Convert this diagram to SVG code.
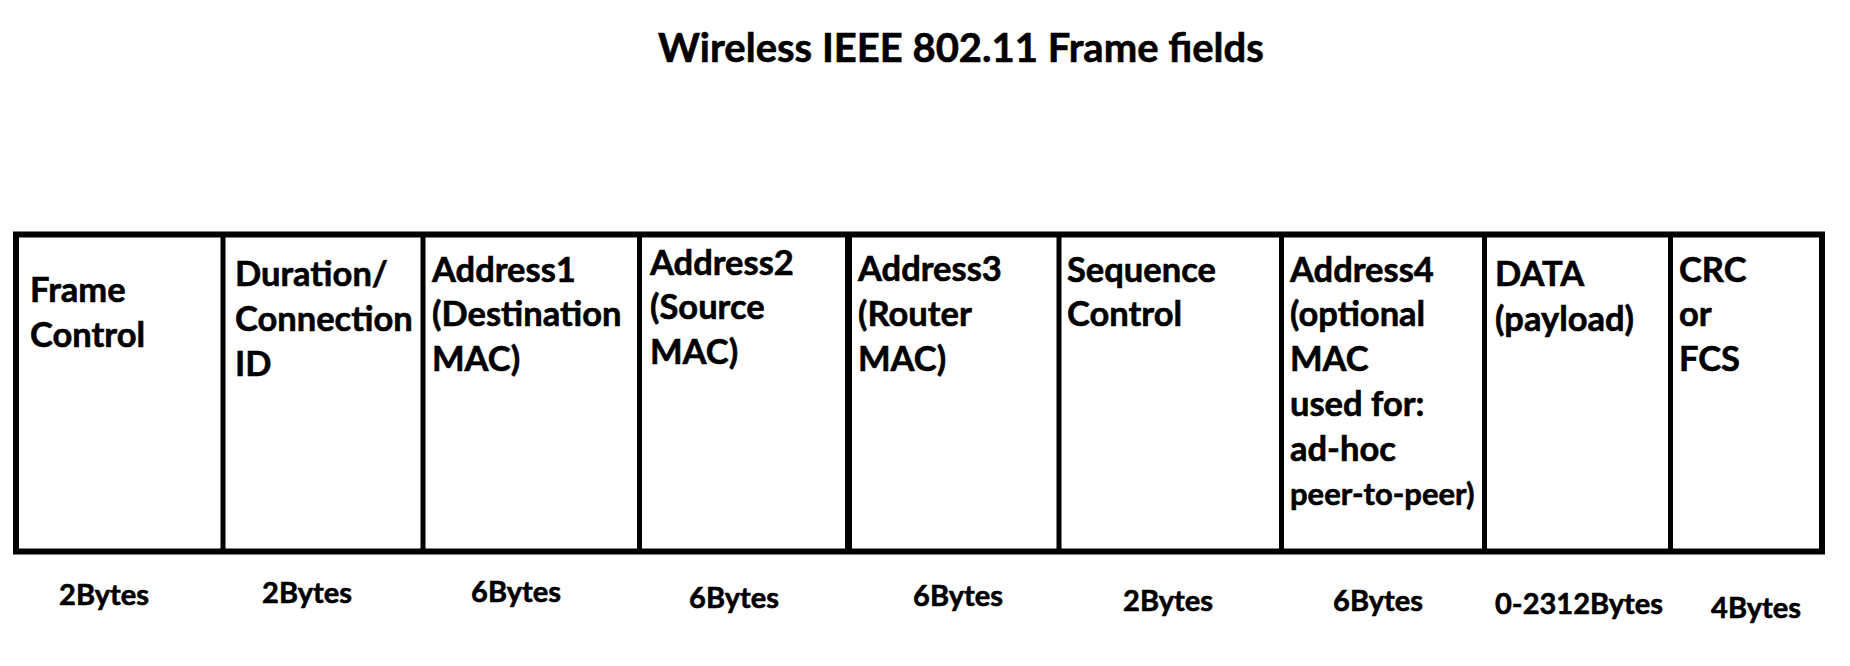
<svg xmlns="http://www.w3.org/2000/svg" width="1850" height="666" viewBox="0 0 1850 666">
<style>
  text { font-family: Lato, "Open Sans", "Liberation Sans", sans-serif; font-weight: bold; fill: #000; stroke: #000; stroke-width: 0.6; }
  .cell { font-size: 34.5px; }
  .small { font-size: 31px; }
  .bytes { font-size: 29px; text-anchor: middle; }
  .title { font-size: 40px; }
  .frame { fill: #fff; stroke: #000; stroke-width: 6; }
  .div { stroke: #000; stroke-width: 5; }
  .thick { stroke: #000; stroke-width: 7; }
</style>
<rect width="1850" height="666" fill="#fff"/>
<text class="title" x="658" y="62">Wireless IEEE 802.11 Frame fields</text>

<g id="frame-outline">
  <rect class="frame" x="16" y="234.5" width="1806" height="317"/>
</g>
<g id="connectors">
  <line class="div" x1="223" y1="236" x2="223" y2="550"/>
  <line class="div" x1="423" y1="236" x2="423" y2="550"/>
  <line class="div" x1="639.5" y1="236" x2="639.5" y2="550"/>
  <line class="thick" x1="848.5" y1="236" x2="848.5" y2="550"/>
  <line class="div" x1="1059" y1="236" x2="1059" y2="550"/>
  <line class="div" x1="1281.5" y1="236" x2="1281.5" y2="550"/>
  <line class="div" x1="1484.5" y1="236" x2="1484.5" y2="550"/>
  <line class="div" x1="1670.5" y1="236" x2="1670.5" y2="550"/>
</g>

<g id="frame-control">
  <text class="cell" x="30" y="302">Frame</text>
  <text class="cell" x="30" y="347">Control</text>
  <text class="bytes" x="104" y="605">2Bytes</text>
</g>
<g id="duration">
  <text class="cell" x="235" y="286">Duration/</text>
  <text class="cell" x="235" y="331">Connection</text>
  <text class="cell" x="235" y="376">ID</text>
  <text class="bytes" x="307" y="603">2Bytes</text>
</g>
<g id="address1">
  <text class="cell" x="432" y="282">Address1</text>
  <text class="cell" x="432" y="326">(Destination</text>
  <text class="cell" x="432" y="371">MAC)</text>
  <text class="bytes" x="516" y="602">6Bytes</text>
</g>
<g id="address2">
  <text class="cell" x="650" y="275">Address2</text>
  <text class="cell" x="650" y="319">(Source</text>
  <text class="cell" x="650" y="364">MAC)</text>
  <text class="bytes" x="734" y="608">6Bytes</text>
</g>
<g id="address3">
  <text class="cell" x="858" y="281">Address3</text>
  <text class="cell" x="858" y="326">(Router</text>
  <text class="cell" x="858" y="371">MAC)</text>
  <text class="bytes" x="958" y="606">6Bytes</text>
</g>
<g id="sequence-control">
  <text class="cell" x="1067" y="282">Sequence</text>
  <text class="cell" x="1067" y="326">Control</text>
  <text class="bytes" x="1168" y="611">2Bytes</text>
</g>
<g id="address4">
  <text class="cell" x="1290" y="282">Address4</text>
  <text class="cell" x="1290" y="326">(optional</text>
  <text class="cell" x="1290" y="371">MAC</text>
  <text class="cell" x="1290" y="416">used for:</text>
  <text class="cell" x="1290" y="461">ad-hoc</text>
  <text class="small" x="1290" y="505">peer-to-peer)</text>
  <text class="bytes" x="1378" y="611">6Bytes</text>
</g>
<g id="data">
  <text class="cell" x="1495" y="286">DATA</text>
  <text class="cell" x="1495" y="331">(payload)</text>
  <text class="bytes" x="1579" y="614">0-2312Bytes</text>
</g>
<g id="crc">
  <text class="cell" x="1679" y="282">CRC</text>
  <text class="cell" x="1679" y="326">or</text>
  <text class="cell" x="1679" y="371">FCS</text>
  <text class="bytes" x="1756" y="618">4Bytes</text>
</g>
</svg>
